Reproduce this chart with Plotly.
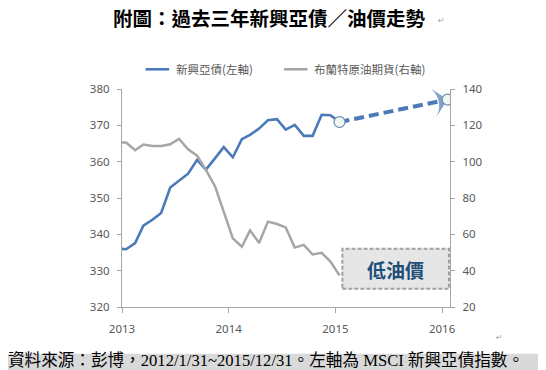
import plotly.graph_objects as go

# ---- data ----
dates = ["2012-12-15",
         "2013-01-15", "2013-02-15", "2013-03-15", "2013-04-15", "2013-05-15", "2013-06-15",
         "2013-07-15", "2013-08-15", "2013-09-15", "2013-10-15", "2013-11-15", "2013-12-15",
         "2014-01-15", "2014-02-15", "2014-03-15", "2014-04-15", "2014-05-15", "2014-06-15",
         "2014-07-15", "2014-08-15", "2014-09-15", "2014-10-15", "2014-11-15", "2014-12-15",
         "2015-01-15"]
asia_bond = [336.1,
             335.9, 337.6, 342.4, 344.0, 345.9, 352.9,
             354.7, 356.7, 360.5, 357.8, 360.9, 364.0,
             361.2, 366.2, 367.4, 369.1, 371.4, 371.7,
             368.8, 370.1, 367.1, 367.1, 372.9, 372.8,
             370.9]
brent = [110.5,
         110.5, 106.3, 109.4, 108.6, 108.6, 109.6,
         112.5, 106.8, 103.3, 95.5, 86.5, 72.5,
         57.8, 53.2, 62.2, 55.2, 67.0, 65.7,
         63.8, 52.7, 54.2, 48.9, 49.8, 45.0,
         37.4]
forecast_dates = [dates[-1], "2016-01-20"]
forecast_vals = [asia_bond[-1], 377.1]

left_ticks = [320, 330, 340, 350, 360, 370, 380]
right_ticks = [20, 40, 60, 80, 100, 120, 140]
year_ticks = ["2013-01-01", "2014-01-01", "2015-01-01", "2016-01-01"]
year_labels = ["2013", "2014", "2015", "2016"]

name_bond = "新興亞債(左軸)"
name_brent = "布蘭特原油期貨(右軸)"
title_text = "附圖：過去三年新興亞債／油價走勢"
box_text = "低油價"
source_text = "資料來源：彭博，2012/1/31~2015/12/31。左軸為 MSCI 新興亞債指數。"

BLUE = "#4a7ab8"
GRAY = "#a6a6a6"
TICKC = "#595959"
AXC = "#a6a6a6"
TICKFONT = dict(family="Noto Sans, Noto Sans CJK TC, sans-serif", size=11.5, color=TICKC)
SERIF = "Liberation Serif, Noto Sans CJK TC, serif"

fig = go.Figure()

fig.add_trace(go.Scatter(x=dates, y=brent, yaxis="y2", mode="lines",
                         line=dict(color=GRAY, width=2.5), name=name_brent, showlegend=False))
fig.add_trace(go.Scatter(x=dates, y=asia_bond, yaxis="y", mode="lines",
                         line=dict(color=BLUE, width=2.6), name=name_bond, showlegend=False))
# dashed forecast arrow
fig.add_trace(go.Scatter(x=forecast_dates, y=forecast_vals, mode="lines+markers",
                         line=dict(color=BLUE, width=4, dash="10px,5px"),
                         marker=dict(symbol=["circle", "arrow-wide"], size=[0, 22], color=BLUE,
                                     angleref="previous", line=dict(width=0)),
                         showlegend=False, hoverinfo="skip"))
# end circles
fig.add_trace(go.Scatter(x=forecast_dates, y=forecast_vals, mode="markers",
                         marker=dict(symbol="circle", size=11, color="#eef6f3",
                                     line=dict(color="#6d8cab", width=1.2)),
                         showlegend=False, hoverinfo="skip"))

# page-pixel helpers (page has an 8px body margin; plot area spans x 122..442, y 89..299)
def px_x(x):
    return (x - 122) / 320.0

def px_y(y):
    return (299 - y) / 210.0

shapes = []
annotations = []

# legend
ly = px_y(70)
shapes.append(dict(type="line", xref="paper", yref="paper", x0=px_x(145), x1=px_x(168),
                   y0=ly, y1=ly, line=dict(color=BLUE, width=2.6)))
shapes.append(dict(type="line", xref="paper", yref="paper", x0=px_x(280), x1=px_x(303),
                   y0=ly, y1=ly, line=dict(color=GRAY, width=2.6)))
annotations.append(dict(xref="paper", yref="paper", x=px_x(173), y=ly, xanchor="left",
                        yanchor="middle", text=name_bond, showarrow=False,
                        font=dict(family="Noto Sans CJK TC, sans-serif", size=11.5, color=TICKC)))
annotations.append(dict(xref="paper", yref="paper", x=px_x(307), y=ly, xanchor="left",
                        yanchor="middle", text=name_brent, showarrow=False,
                        font=dict(family="Noto Sans CJK TC, sans-serif", size=11.5, color=TICKC)))

# low-oil box
shapes.append(dict(type="rect", xref="paper", yref="paper", x0=px_x(337), x1=px_x(441),
                   y0=px_y(281.5), y1=px_y(243), fillcolor="#e6e6e6",
                   line=dict(color="#a0a0a0", width=2, dash="4px,2px"), layer="below"))
annotations.append(dict(xref="paper", yref="paper", x=px_x(389), y=px_y(262.5),
                        xanchor="center", yanchor="middle", text="<b>" + box_text + "</b>",
                        showarrow=False,
                        font=dict(family="Noto Sans CJK TC, sans-serif", size=19, color="#1f4e79")))

# title
annotations.append(dict(xref="paper", yref="paper", x=px_x(266), y=px_y(21.5),
                        xanchor="center", yanchor="middle", text="<b>" + title_text + "</b>",
                        showarrow=False, font=dict(family=SERIF, size=19.5, color="#000000")))
annotations.append(dict(xref="paper", yref="paper", x=px_x(428), y=px_y(23),
                        xanchor="left", yanchor="middle", text="↵",
                        showarrow=False, font=dict(family="DejaVu Sans", size=8, color="#a0a0a0")))
annotations.append(dict(xref="paper", yref="paper", x=px_x(485), y=px_y(328),
                        xanchor="left", yanchor="middle", text="↵",
                        showarrow=False, font=dict(family="DejaVu Sans", size=8, color="#a0a0a0")))

# source band
shapes.append(dict(type="rect", xref="paper", yref="paper", x0=px_x(0), x1=px_x(546),
                   y0=px_y(372), y1=px_y(344), fillcolor="#d9d9d9", line=dict(width=0),
                   layer="below"))
annotations.append(dict(xref="paper", yref="paper", x=px_x(9), y=px_y(351),
                        xanchor="left", yanchor="middle", text=source_text,
                        showarrow=False, font=dict(family=SERIF, size=16.6, color="#000000")))

fig.update_layout(
    width=538, height=362,
    margin=dict(l=114, r=96, t=81, b=63),
    paper_bgcolor="white", plot_bgcolor="white",
    showlegend=False,
    shapes=shapes, annotations=annotations,
    xaxis=dict(type="date", range=["2013-01-01", "2016-01-28"],
               tickvals=year_ticks, ticktext=year_labels,
               showgrid=False, zeroline=False, showline=True, linecolor=AXC, linewidth=1.3,
               ticks="outside", ticklen=5, tickcolor=AXC, tickfont=TICKFONT,
               ticklabelstandoff=6),
    yaxis=dict(range=[320, 380], tickvals=left_ticks, showgrid=False, zeroline=False,
               showline=True, linecolor=AXC, linewidth=1.3, ticks="outside", ticklen=4,
               tickcolor=AXC, tickfont=TICKFONT, ticklabelstandoff=5),
    yaxis2=dict(range=[20, 140], tickvals=right_ticks, overlaying="y", side="right",
                showgrid=False, zeroline=False, showline=True, linecolor=AXC, linewidth=1.3,
                ticks="outside", ticklen=4, tickcolor=AXC, tickfont=TICKFONT,
                ticklabelstandoff=5),
)

fig.write_html("out.html")
